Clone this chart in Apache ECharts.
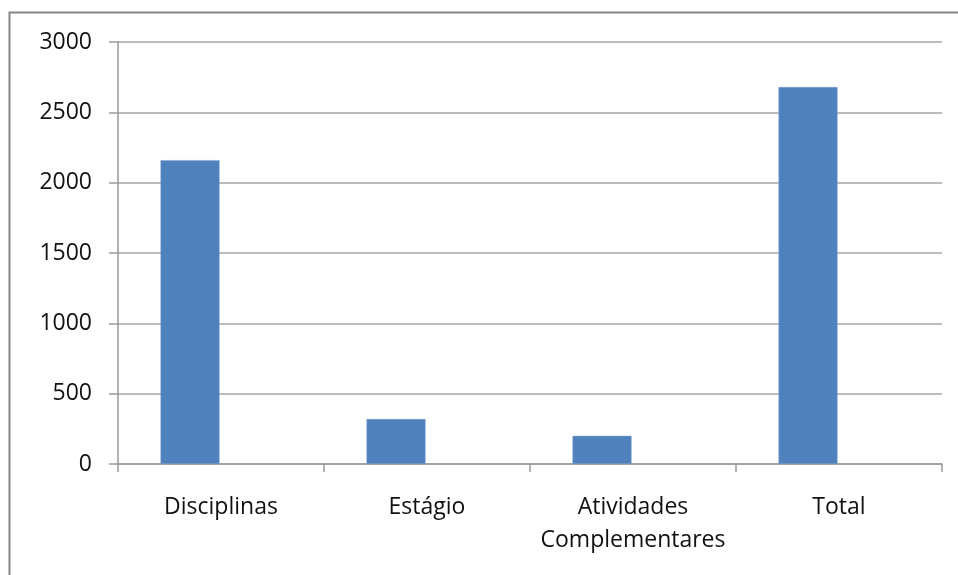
<!DOCTYPE html>
<html>
<head>
<meta charset="utf-8">
<script src="https://cdn.jsdelivr.net/npm/echarts@6/dist/echarts.min.js"></script>
<style>html,body{margin:0;padding:0;background:#fff}#c{width:958px;height:575px}</style>
</head>
<body>
<div id="c"></div>
<script>
const categories = ['Disciplinas', 'Estágio', 'Atividades\nComplementares', 'Total'];
const values = [2160, 320, 200, 2680];
const emptySeries = [null, null, null, null];
const yTicks = [0, 500, 1000, 1500, 2000, 2500, 3000];

const chart = echarts.init(document.getElementById('c'), null, {renderer: 'canvas'});
const font = '"Open Sans", sans-serif';
chart.setOption({
  animation: false,
  backgroundColor: '#fff',
  graphic: [{
    type: 'rect',
    shape: {x: 9.5, y: 12.5, width: 1200, height: 1200},
    style: {fill: 'none', stroke: '#868686', lineWidth: 2},
    silent: true
  }],
  grid: {left: 118, right: 16, top: 42, bottom: 111},
  xAxis: {
    type: 'category',
    data: categories,
    axisLine: {lineStyle: {color: '#9a9a9a', width: 1.5}},
    axisTick: {show: true, length: 8, alignWithLabel: false, lineStyle: {color: '#9a9a9a', width: 1.5}},
    axisLabel: {color: '#111', fontFamily: font, fontSize: 23, margin: 27, lineHeight: 33, interval: 0}
  },
  yAxis: {
    type: 'value',
    min: yTicks[0],
    max: yTicks[yTicks.length - 1],
    interval: 500,
    axisLine: {show: true, lineStyle: {color: '#9a9a9a', width: 1.5}},
    axisTick: {show: true, length: 9, lineStyle: {color: '#9a9a9a', width: 1.5}},
    splitLine: {lineStyle: {color: '#a6a6a6', width: 1.5}},
    axisLabel: {color: '#111', fontFamily: font, fontSize: 23, margin: 26, formatter: v => String(v)}
  },
  series: [{
    type: 'bar',
    data: values,
    barWidth: 59,
    barGap: '5%',
    itemStyle: {color: '#4F81BD', borderColor: '#7ea3d0', borderWidth: 0.5}
  }, {
    type: 'bar',
    data: emptySeries,
    barWidth: 59,
    itemStyle: {color: '#C0504D'}
  }]
});
</script>
</body>
</html>
